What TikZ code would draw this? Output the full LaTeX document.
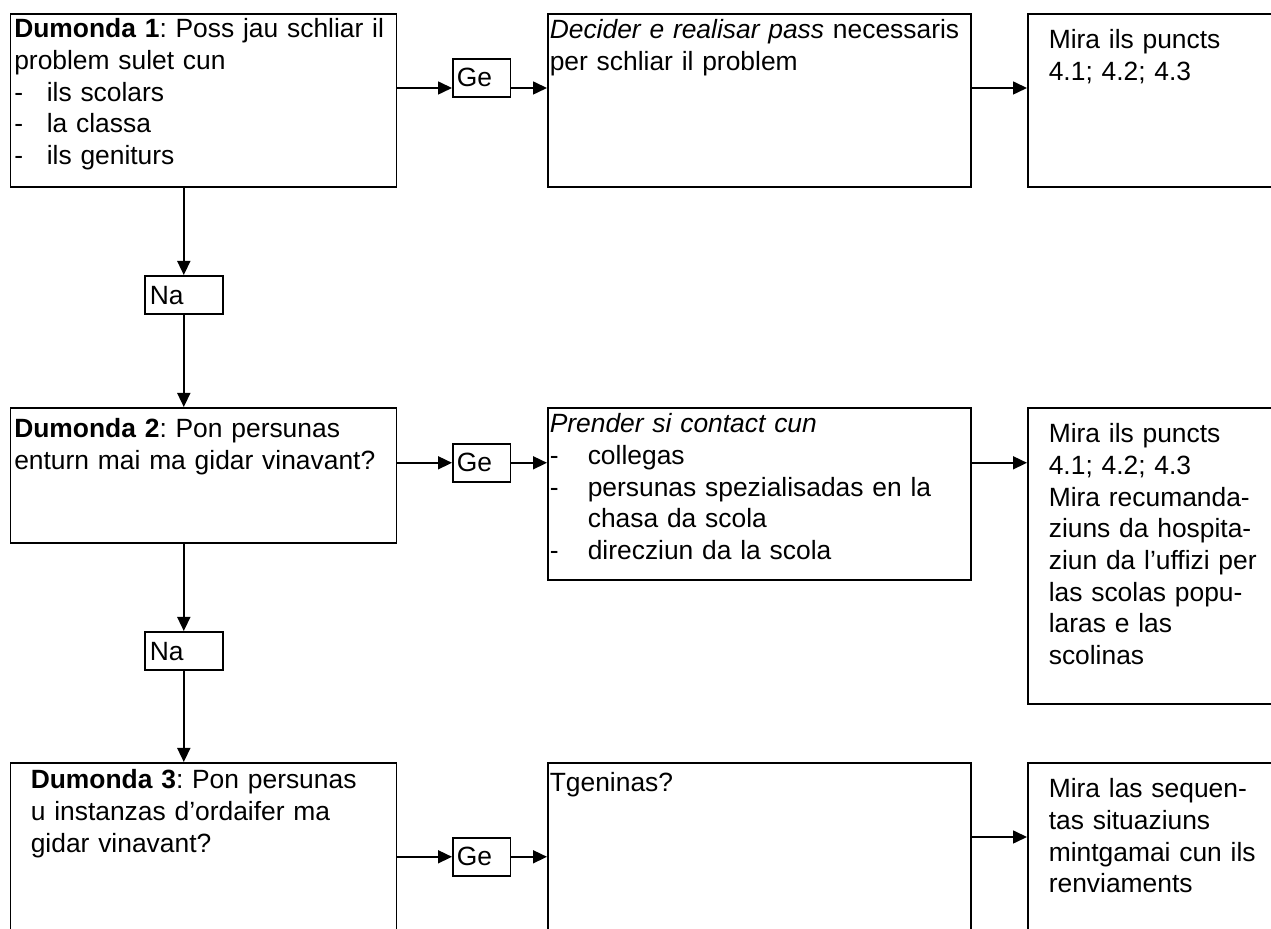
\documentclass[tikz,border=0pt]{standalone}
\usepackage{fontspec}
\setmainfont{Liberation Sans}
\usetikzlibrary{arrows.meta}
\frenchspacing
\begin{document}
\begin{tikzpicture}[x=.5pt,y=-.5pt,>={Triangle[length=7pt,width=6.5pt]},line width=.8pt,
    font=\fontsize{13.2}{15.85}\selectfont,
    feld/.style={draw,anchor=north west,inner ysep=0pt,inner xsep=#1,align=left},
    feld/.default=2pt,
    antwort/.style={draw,anchor=north west,inner ysep=0pt,inner xsep=2pt,align=left,text height=14pt,text depth=5pt}]
    \newcommand{\li}[1][16.25pt]{\makebox[#1][l]{-}}
    \clip(0,0)rectangle(1271,929);
    % dumondas
    \node[feld,text width=189pt,text height=12pt,text depth=74.5pt](q1)at(9.5,13){\textbf{Dumonda 1}: Poss jau schliar il\\problem sulet cun\\\li ils scolars\\\li la classa\\\li ils geniturs};
    \node[feld,text width=189pt,text height=15pt,text depth=52.5pt](q2)at(9.5,407){\textbf{Dumonda 2}: Pon persunas\\enturn mai ma gidar vinavant?};
    \node[feld=10.25pt,text width=172.5pt,text height=13pt,text depth=87pt](q3)at(9.5,762){\textbf{Dumonda 3}: Pon persunas\\u instanzas d’ordaifer ma\\gidar vinavant?};
    % ge / na
    \node[antwort,text width=24.75pt](g1)at(452,58){Ge};
    \node[antwort,text width=24.75pt](g2)at(452,443){Ge};
    \node[antwort,text width=24.75pt](g3)at(452,837){Ge};
    \node[antwort,inner xsep=2.5pt,text width=34pt,text height=14.5pt,text depth=4.5pt](n1)at(144,275){Na};
    \node[antwort,inner xsep=2.5pt,text width=34pt,text height=14.5pt,text depth=4.5pt](n2)at(144,631){Na};
    % pass
    \node[feld=1pt,text width=209.5pt,text height=12.5pt,text depth=74pt](a1)at(547,13){\textit{Decider e realisar pass} necessaris\\per schliar il problem};
    \node[feld=1pt,text width=209.5pt,text height=12.5pt,text depth=73.5pt](a2)at(547,407){\textit{Prender si contact cun}\\\li[19pt]collegas\\\li[19pt]persunas spezialisadas en la\\\hspace*{19pt}chasa da scola\\\li[19pt]direcziun da la scola};
    \node[feld=1pt,text width=209.5pt,text height=14.5pt,text depth=85.5pt](a3)at(547,762){Tgeninas?};
    % renviaments
    \node[feld=10.5pt,text width=140pt,text height=17.5pt,text depth=69pt](r1)at(1027,13){Mira ils puncts\\4.1; 4.2; 4.3};
    \node[feld=10.5pt,text width=140pt,text height=17.5pt,text depth=130.5pt](r2)at(1027,407){Mira ils puncts\\4.1; 4.2; 4.3\\Mira recumanda-\\ziuns da hospita-\\ziun da l’uffizi per\\las scolas popu-\\laras e las\\scolinas};
    \node[feld=10.5pt,text width=140pt,text height=17.5pt,text depth=82.5pt](r3)at(1027,762){Mira las sequen-\\tas situaziuns\\mintgamai cun ils\\renviaments};
    % arrows
    \coordinate(z1)at(0,88);
    \draw[->](q1.east|-z1)--(g1.west|-z1);
    \draw[->](g1.east|-z1)--(a1.west|-z1);
    \draw[->](a1.east|-z1)--(r1.west|-z1);
    \draw[->](q1.south-|n1)--(n1.north);
    \draw[->](n1.south)--(q2.north-|n1);
    \draw[->](q2.east|-g2)--(g2.west);
    \draw[->](g2.east)--(a2.west|-g2);
    \draw[->](a2.east|-g2)--(r2.west|-g2);
    \draw[->](q2.south-|n2)--(n2.north);
    \draw[->](n2.south)--(q3.north-|n2);
    \draw[->](q3.east|-g3)--(g3.west);
    \draw[->](g3.east)--(a3.west|-g3);
    \draw[->](a3.east|-g3.north)--(r3.west|-g3.north);
\end{tikzpicture}
\end{document}
